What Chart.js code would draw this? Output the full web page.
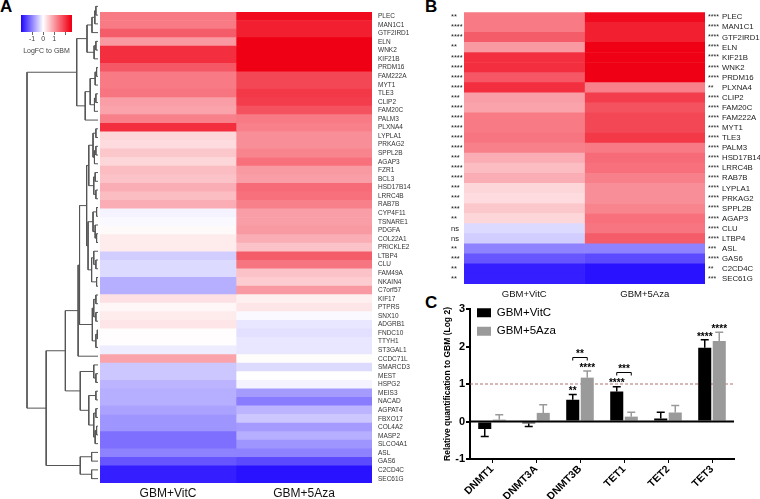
<!DOCTYPE html>
<html>
<head>
<meta charset="utf-8">
<script src="https://cdn.jsdelivr.net/npm/chart.js@4/dist/chart.umd.min.js"></script>
<style>
  body { margin: 0; background: #fff; }
  #wrap { position: relative; width: 760px; height: 499px; overflow: hidden; background: #fff; }
  .panel { position: absolute; font: bold 17px "Liberation Sans", Arial, sans-serif; color: #000; }
</style>
</head>
<body>
<div id="wrap">
  <div class="panel" style="left:0px;top:-3px">A</div>
  <div class="panel" style="left:425px;top:-3px">B</div>
  <div class="panel" style="left:425px;top:293px">C</div>
</div>
<script>
// ---- panel A: heatmap rows (top to bottom) ----
const genesA = ["PLEC", "MAN1C1", "GTF2IRD1", "ELN", "WNK2", "KIF21B", "PRDM16", "FAM222A", "MYT1", "TLE3",
  "CLIP2", "FAM20C", "PALM3", "PLXNA4", "LYPLA1", "PRKAG2", "SPPL2B", "AGAP3", "FZR1", "BCL3",
  "HSD17B14", "LRRC4B", "RAB7B", "CYP4F11", "TSNARE1", "PDGFA", "COL22A1", "PRICKLE2", "LTBP4", "CLU",
  "FAM49A", "NKAIN4", "C7orf57", "KIF17", "PTPRS", "SNX10", "ADGRB1", "FNDC10", "TTYH1", "ST3GAL1",
  "CCDC71L", "SMARCD3", "MEST", "HSPG2", "MEIS3", "NACAD", "AGPAT4", "FBXO17", "COL4A2", "MASP2",
  "SLCO4A1", "ASL", "GAS6", "C2CD4C", "SEC61G"];
const vitcA = [1.3, 1.3, 1.6, 1.0, 2.05, 2.05, 1.65, 1.3, 1.3, 1.35,
  0.95, 0.9, 1.25, 2.05, 0.4, 0.35, 0.55, 0.4, 0.65, 0.6,
  0.8, 0.65, 0.8, -0.1, -0.05, 0.05, 0.2, 0.2, -0.4, -0.3,
  -0.3, -0.65, -0.65, 0.3, 0.08, 0.2, 0.25, 0.02, 0.02, -0.15,
  0.9, -0.45, -0.45, -0.6, -0.65, -0.65, -0.75, -0.85, -0.85, -1.15,
  -1.15, -1.0, -1.35, -1.8, -1.8];
const azaA = [2.4, 2.2, 2.2, 2.5, 2.5, 2.5, 2.5, 1.8, 1.8, 1.95,
  1.9, 1.7, 1.3, 1.25, 1.1, 1.1, 1.2, 1.4, 1.0, 0.95,
  1.45, 1.4, 1.25, 0.95, 0.95, 1.0, 0.8, 0.6, 1.6, 1.35,
  0.6, 0.5, 1.0, 0.15, 0.25, -0.05, -0.2, -0.25, -0.2, -0.2,
  0.03, -0.3, 0.0, -0.1, -0.8, -1.05, -0.6, -0.45, -0.8, -0.65,
  -0.85, -1.0, -1.45, -1.9, -1.9];
const columns = ["GBM+VitC", "GBM+5Aza"];

// row dendrogram: [height, left, right], leaves are gene names
const tree = [1.0,
  [0.30,
    [0.155,
      [0.085, [0.045, [0.03, "PLEC", "MAN1C1"], "GTF2IRD1"], "ELN"],
      [0.055, [0.03, "WNK2", "KIF21B"], "PRDM16"]],
    [0.18,
      [0.11, [0.04, [0.02, "FAM222A", "MYT1"], "TLE3"], [0.05, [0.03, "CLIP2", "FAM20C"], "PALM3"]],
      "PLXNA4"]],
  [0.73,
    [0.46,
      [0.28,
        [0.26,
          [0.16,
            [0.13,
              [0.07, [0.03, "LYPLA1", "PRKAG2"], [0.05, [0.03, "SPPL2B", "AGAP3"], "FZR1"]],
              [0.06, [0.04, "BCL3", "HSD17B14"], [0.03, "LRRC4B", "RAB7B"]]],
            [0.14,
              [0.07, [0.02, "CYP4F11", "TSNARE1"], [0.04, "PDGFA", [0.02, "COL22A1", "PRICKLE2"]]],
              [0.09, [0.06, "LTBP4", [0.03, "CLU", "FAM49A"]], [0.02, "NKAIN4", "C7orf57"]]]],
          [0.08, [0.06, [0.03, "KIF17", "PTPRS"], [0.03, "SNX10", "ADGRB1"]], [0.03, [0.01, "FNDC10", "TTYH1"], "ST3GAL1"]]],
        "CCDC71L"],
      [0.25,
        [0.06, "SMARCD3", [0.03, "MEST", "HSPG2"]],
        [0.13, [0.03, "MEIS3", "NACAD"], [0.06, [0.03, "AGPAT4", "FBXO17"], [0.04, [0.02, "COL4A2", "MASP2"], "SLCO4A1"]]]]],
    [0.25, [0.09, "ASL", "GAS6"], [0.09, "C2CD4C", "SEC61G"]]]];

// ---- panel B ----
const genesB = ["PLEC", "MAN1C1", "GTF2IRD1", "ELN", "KIF21B", "WNK2", "PRDM16", "PLXNA4", "CLIP2", "FAM20C",
  "FAM222A", "MYT1", "TLE3", "PALM3", "HSD17B14", "LRRC4B", "RAB7B", "LYPLA1", "PRKAG2", "SPPL2B",
  "AGAP3", "CLU", "LTBP4", "ASL", "GAS6", "C2CD4C", "SEC61G"];
const starsVitcB = ["**", "****", "****", "**", "****", "****", "****", "****", "***", "****",
  "****", "****", "****", "****", "***", "****", "****", "***", "***", "***",
  "**", "ns", "ns", "**", "***", "**", "**"];
const starsAzaB = ["****", "****", "****", "****", "****", "****", "****", "**", "****", "****",
  "****", "****", "****", "****", "****", "****", "****", "****", "****", "****",
  "****", "****", "****", "***", "****", "**", "***"];

// ---- panel C ----
const categoriesC = ["DNMT1", "DNMT3A", "DNMT3B", "TET1", "TET2", "TET3"];
const vitcC = [-0.2, -0.05, 0.58, 0.8, 0.08, 1.97];
const azaC = [0.05, 0.23, 1.17, 0.13, 0.24, 2.15];
const errVitcC = [0.2, 0.08, 0.14, 0.13, 0.17, 0.21];
const errAzaC = [0.13, 0.22, 0.18, 0.12, 0.19, 0.23];
const sigVitcC = ["", "", "**", "****", "", "****"];
const sigAzaC = ["", "", "****", "", "", "****"];
const bracketsC = [
  { cat: 2, y: 1.72, label: "**" },
  { cat: 3, y: 1.32, label: "***" },
];
const refLine = 1;
const colorTicks = [-1, 0, 1, 2];

Chart.defaults.font.family = "'Liberation Sans', Arial, sans-serif";
Chart.defaults.animation = false;
Chart.defaults.plugins.tooltip.enabled = false;

function colorFor(v) {
  if (v >= 0) {
    const t = Math.min(v / 2.5, 1);
    return `rgb(${Math.round(255 - 15 * t)},${Math.round(255 * (1 - t))},${Math.round(255 - 235 * t)})`;
  }
  const t = Math.min(-v / 2, 1);
  return `rgb(${Math.round(255 - 225 * t)},${Math.round(255 - 250 * t)},255)`;
}

function makeChart(left, top, width, height, config) {
  const canvas = document.createElement("canvas");
  canvas.width = width;
  canvas.height = height;
  canvas.style.cssText = `position:absolute;left:${left}px;top:${top}px;width:${width}px;height:${height}px`;
  document.getElementById("wrap").appendChild(canvas);
  config.options.responsive = false;
  return new Chart(canvas.getContext("2d"), config);
}

// note: drawTicks must be off too, or the tick length still pushes labels out
const noGrid = { display: false, drawTicks: false };
const noBorder = { display: false };

// column axis shared by both heatmaps
function columnAxis(fontSize, pad) {
  return {
    stacked: true, min: 0, max: 2,
    grid: noGrid, border: noBorder,
    afterBuildTicks: (s) => { s.ticks = [{ value: 0.5 }, { value: 1.5 }]; },
    ticks: { callback: (v) => columns[v < 1 ? 0 : 1], font: { size: fontSize }, color: "#111", padding: pad, maxRotation: 0 },
    afterFit: (s) => { s.height = 16; },
  };
}

// ---- dendrogram ----
const segments = [];
function walk(node) {
  if (typeof node === "string") return { h: 0, pos: genesA.indexOf(node) };
  const a = walk(node[1]);
  const b = walk(node[2]);
  segments.push([
    { x: a.h, y: a.pos }, { x: node[0], y: a.pos },
    { x: node[0], y: b.pos }, { x: b.h, y: b.pos },
  ]);
  return { h: node[0], pos: (a.pos + b.pos) / 2 };
}
walk(tree);

makeChart(20, 2, 80, 481, {
  type: "scatter",
  data: {
    datasets: segments.map((pts) => ({
      data: pts, showLine: true, borderColor: "#555", borderWidth: 1,
      pointRadius: 0, clip: false,
    })),
  },
  options: {
    layout: { padding: 0 },
    plugins: { legend: { display: false } },
    scales: {
      x: { type: "linear", reverse: true, min: -0.028, max: 1.0986, display: false },
      y: { type: "linear", reverse: true, min: -0.5, max: genesA.length - 0.5, display: false },
    },
  },
});

// ---- heatmap A ----
makeChart(100, 2, 320, 497, {
  type: "bar",
  data: {
    labels: genesA,
    datasets: [
      { label: columns[0], data: genesA.map(() => 1), backgroundColor: vitcA.map(colorFor) },
      { label: columns[1], data: genesA.map(() => 1), backgroundColor: azaA.map(colorFor) },
    ],
  },
  options: {
    indexAxis: "y",
    layout: { padding: 0 },
    plugins: { legend: { display: false } },
    datasets: { bar: { barPercentage: 1, categoryPercentage: 1, borderWidth: 0 } },
    scales: {
      x: columnAxis(12, 3),
      y: {
        stacked: true, position: "right", grid: noGrid, border: noBorder,
        ticks: { font: { size: 6.5 }, color: "#333", padding: 6, autoSkip: false },
        afterFit: (s) => { s.width = 48; },
      },
    },
  },
});

// ---- colour key ----
makeChart(21, 15, 51, 40, {
  type: "bar",
  data: {
    labels: [""],
    datasets: [{
      data: [[-2, 2.6]],
      borderWidth: 0,
      backgroundColor: (ctx) => {
        const chart = ctx.chart;
        if (!chart.chartArea) return "#fff";
        const xs = chart.scales.x;
        const x0 = xs.getPixelForValue(-2);
        const x1 = xs.getPixelForValue(2.6);
        const g = chart.ctx.createLinearGradient(x0, 0, x1, 0);
        [-2, -1.5, -1, -0.5, 0, 0.5, 1, 1.5, 2, 2.5, 2.6].forEach((v) => {
          g.addColorStop((v + 2) / 4.6, colorFor(v));
        });
        return g;
      },
    }],
  },
  options: {
    indexAxis: "y",
    layout: { padding: 0 },
    plugins: { legend: { display: false } },
    datasets: { bar: { barPercentage: 1, categoryPercentage: 1 } },
    scales: {
      y: { display: false },
      x: {
        min: -2, max: 2.6,
        grid: { drawOnChartArea: false, tickLength: 3, color: "#666" },
        border: noBorder,
        afterBuildTicks: (s) => { s.ticks = colorTicks.map((v) => ({ value: v })); },
        ticks: { font: { size: 7 }, color: "#444", padding: 0, maxRotation: 0, callback: (v) => (v === 2 ? "" : v) },
        title: { display: true, text: "LogFC to GBM", font: { size: 7 }, color: "#444", padding: 0 },
        afterFit: (s) => { s.height = 23; },
      },
    },
  },
});

// ---- heatmap B ----
const idxB = genesB.map((g) => genesA.indexOf(g));
makeChart(451, 5, 309, 295, {
  type: "bar",
  data: {
    labels: genesB,
    datasets: [
      { label: columns[0], data: genesB.map(() => 1), backgroundColor: idxB.map((i) => colorFor(vitcA[i])) },
      { label: columns[1], data: genesB.map(() => 1), backgroundColor: idxB.map((i) => colorFor(azaA[i])) },
    ],
  },
  options: {
    indexAxis: "y",
    layout: { padding: 0 },
    plugins: { legend: { display: false } },
    datasets: { bar: { barPercentage: 1, categoryPercentage: 1, borderWidth: 0 } },
    scales: {
      x: columnAxis(9.5, 5),
      y: {
        stacked: true, position: "left", offset: true, grid: noGrid, border: noBorder,
        ticks: { callback: (v, i) => starsVitcB[i], font: { size: 7.5 }, color: "#222", crossAlign: "far", padding: 0, autoSkip: false },
        afterFit: (s) => { s.width = 13; },
      },
      yStars: {
        type: "category", position: "right", weight: 0, offset: true, grid: noGrid, border: noBorder,
        ticks: { callback: (v, i) => starsAzaB[i], font: { size: 7 }, color: "#222", padding: 3, autoSkip: false },
        afterFit: (s) => { s.width = 15; },
      },
      yNames: {
        type: "category", position: "right", weight: 1, offset: true, grid: noGrid, border: noBorder,
        ticks: { font: { size: 7.8 }, color: "#222", padding: 2, autoSkip: false },
        afterFit: (s) => { s.width = 40; },
      },
    },
  },
});

// ---- bar chart C ----
const cExtras = {
  id: "cExtras",
  beforeDatasetsDraw(chart) {
    const { ctx, chartArea, scales: { y } } = chart;
    const yr = y.getPixelForValue(refLine);
    ctx.save();
    ctx.strokeStyle = "rgba(170,95,95,0.9)";
    ctx.lineWidth = 1;
    ctx.setLineDash([3, 2]);
    ctx.beginPath();
    ctx.moveTo(chartArea.left, yr);
    ctx.lineTo(chartArea.right, yr);
    ctx.stroke();
    ctx.restore();
  },
  afterDatasetsDraw(chart) {
    const { ctx, chartArea, scales: { y } } = chart;
    const vals = [vitcC, azaC];
    const errs = [errVitcC, errAzaC];
    const sigs = [sigVitcC, sigAzaC];
    const cols = ["#000", "#9a9a9a"];
    ctx.save();
    ctx.font = "bold 10px 'Liberation Sans', Arial, sans-serif";
    ctx.textAlign = "center";
    ctx.textBaseline = "bottom";
    ctx.lineWidth = 1.5;
    [0, 1].forEach((d) => {
      chart.getDatasetMeta(d).data.forEach((bar, j) => {
        const v = vals[d][j];
        const end = v >= 0 ? v + errs[d][j] : v - errs[d][j];
        const yv = y.getPixelForValue(v);
        const ye = y.getPixelForValue(end);
        ctx.strokeStyle = cols[d];
        ctx.beginPath();
        ctx.moveTo(bar.x, yv);
        ctx.lineTo(bar.x, ye);
        ctx.moveTo(bar.x - 4, ye);
        ctx.lineTo(bar.x + 4, ye);
        ctx.stroke();
        if (sigs[d][j]) {
          ctx.fillStyle = "#000";
          ctx.fillText(sigs[d][j], bar.x, ye + 2);
        }
      });
    });
    // comparison brackets
    ctx.strokeStyle = "#000";
    ctx.lineWidth = 1;
    bracketsC.forEach((b) => {
      const x1 = chart.getDatasetMeta(0).data[b.cat].x;
      const x2 = chart.getDatasetMeta(1).data[b.cat].x;
      const yb = Math.round(y.getPixelForValue(b.y)) + 0.5;
      ctx.beginPath();
      ctx.moveTo(x1, yb + 3);
      ctx.lineTo(x1, yb);
      ctx.lineTo(x2, yb);
      ctx.lineTo(x2, yb + 3);
      ctx.stroke();
      ctx.fillStyle = "#000";
      ctx.fillText(b.label, (x1 + x2) / 2, yb + 2);
    });
    // zero line
    const y0 = y.getPixelForValue(0);
    ctx.lineWidth = 2;
    ctx.beginPath();
    ctx.moveTo(chartArea.left, y0);
    ctx.lineTo(chartArea.right, y0);
    ctx.stroke();
    ctx.restore();
  },
};

makeChart(440, 300, 320, 199, {
  type: "bar",
  data: {
    labels: categoriesC,
    datasets: [
      { label: "GBM+VitC", data: vitcC, backgroundColor: "#000", borderWidth: 0 },
      { label: "GBM+5Aza", data: azaC, backgroundColor: "#9a9a9a", borderWidth: 0 },
    ],
  },
  options: {
    layout: { padding: { top: 9, right: 26, left: 0, bottom: 0 } },
    datasets: { bar: { categoryPercentage: 0.66, barPercentage: 0.9 } },
    plugins: {
      legend: {
        position: "chartArea",
        align: "start",
        labels: { boxWidth: 14, boxHeight: 9, font: { size: 11.5 }, color: "#000", padding: 7 },
      },
    },
    scales: {
      x: {
        grid: { drawOnChartArea: false, offset: false, tickLength: 4, color: "#000", lineWidth: 1 },
        border: { color: "#000", width: 2 },
        ticks: { maxRotation: 45, minRotation: 45, font: { size: 10.5, weight: "bold" }, color: "#000", padding: 0 },
        afterFit: (s) => { s.height = 40; },
      },
      y: {
        min: -1, max: 3,
        grid: { drawOnChartArea: false, tickLength: 4, color: "#000", lineWidth: 2 },
        border: { color: "#000", width: 2 },
        ticks: { stepSize: 1, font: { size: 11, weight: "bold" }, color: "#000", padding: 1 },
        title: {
          display: true, text: "Relative quantification to GBM (Log 2)",
          font: { size: 8.5, weight: "bold" }, color: "#000", padding: 3,
        },
        afterFit: (s) => { s.width = 30; },
      },
    },
  },
  plugins: [cExtras],
});
</script>
</body>
</html>
